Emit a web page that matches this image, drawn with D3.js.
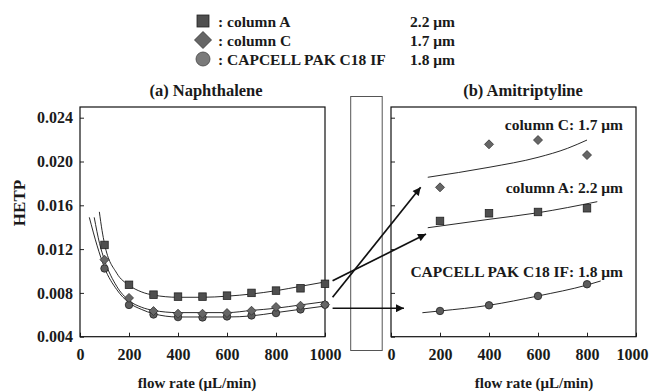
<!DOCTYPE html>
<html><head><meta charset="utf-8">
<script src="https://cdn.jsdelivr.net/npm/d3@7"></script>
<style>
body{margin:0;background:#fff}
text{font-family:"Liberation Serif","Times New Roman",serif;font-weight:bold;fill:#1a1a1a}
</style>
</head><body><svg id="c" width="649" height="392"></svg>
<script>
// ---------- data ----------
const xTicks = [0, 200, 400, 600, 800, 1000];
const yTicks = [0.004, 0.008, 0.012, 0.016, 0.020, 0.024];

// (a) Naphthalene – measured points
const napFlow = [100, 200, 300, 400, 500, 600, 700, 800, 900, 1000];
const napColA = [0.01238, 0.00874, 0.00784, 0.00766, 0.00766, 0.00775, 0.00800, 0.00821, 0.00842, 0.00883];
const napColC = [0.01103, 0.00754, 0.00634, 0.00610, 0.00610, 0.00616, 0.00637, 0.00671, 0.00683, 0.00692];
const napCap  = [0.01023, 0.00690, 0.00603, 0.00579, 0.00576, 0.00585, 0.00594, 0.00616, 0.00649, 0.00692];
// (a) fitted curves
const napFitAx = [79, 90, 100, 150, 200, 250, 300, 400, 500, 600, 700, 800, 900, 1000];
const napFitAy = [0.0154, 0.0137, 0.0125, 0.0098, 0.0087, 0.0081, 0.0078, 0.0076, 0.0076, 0.0077, 0.0079, 0.0082, 0.0086, 0.0090];
const napFitCx = [58, 80, 100, 150, 200, 250, 300, 400, 500, 600, 700, 800, 900, 1000];
const napFitCy = [0.0149, 0.0125, 0.0110, 0.0086, 0.0073, 0.0067, 0.0064, 0.0062, 0.0062, 0.0062, 0.0064, 0.0066, 0.0069, 0.0072];
const napFitPx = [38, 70, 100, 150, 200, 250, 300, 400, 500, 600, 700, 800, 900, 1000];
const napFitPy = [0.0149, 0.0123, 0.0103, 0.0083, 0.0071, 0.0065, 0.0061, 0.0058, 0.0058, 0.0058, 0.0059, 0.0062, 0.0065, 0.0068];

// (b) Amitriptyline – measured points
const amiFlow = [200, 400, 600, 800];
const amiColA = [0.01457, 0.01527, 0.01539, 0.01573];
const amiColC = [0.01764, 0.02157, 0.02196, 0.02059];
const amiCap  = [0.00635, 0.00687, 0.00772, 0.00879];
// (b) fitted curves
const amiFitCx = [150, 400, 600, 720, 800];
const amiFitCy = [0.01856, 0.01947, 0.02038, 0.02120, 0.02196];
const amiFitAx = [150, 400, 600, 842];
const amiFitAy = [0.01395, 0.01472, 0.01532, 0.01633];
const amiFitPx = [128, 200, 400, 600, 800, 856];
const amiFitPy = [0.00619, 0.00635, 0.00687, 0.00772, 0.00872, 0.00909];

// legend
const legendNames = [": column A", ": column C", ": CAPCELL PAK C18 IF"];
const legendSizes = ["2.2 μm", "1.7 μm", "1.8 μm"];
const legendShapes = ["square", "diamond", "circle"];

// right-panel labels
const amiLabels = ["column C: 1.7 μm", "column A: 2.2 μm", "CAPCELL PAK C18 IF: 1.8 μm"];
const amiLabelY = [0.02285, 0.01710, 0.00942];

// arrows: from left panel (flow, HETP) to right panel (flow, HETP)
const arrowFrom = [[1031, 0.0076], [1031, 0.0091], [1031, 0.0066]];
const arrowTo   = [[121, 0.01764], [143, 0.01338], [53, 0.0066]];

// ---------- drawing ----------
const svg = d3.select("#c");
const plotTop = 107, plotBottom = 336.7;
const y = d3.scaleLinear().domain([0.004, 0.024]).range([plotBottom, 117.7]);
const xL = d3.scaleLinear().domain([0, 1000]).range([80, 325]);
const xR = d3.scaleLinear().domain([0, 1000]).range([391, 636]);

const styles = {
  square: {fill: "#4f4f4f", stroke: "#222"},
  diamond: {fill: "#666", stroke: "#333"},
  circle: {fill: "#5c5c5c", stroke: "#222"}
};
function marker(g, shape, cx, cy, s) {
  const st = styles[shape];
  if (shape === "circle") {
    g.append("circle").attr("cx", cx).attr("cy", cy).attr("r", s / 2)
      .attr("fill", st.fill).attr("stroke", st.stroke).attr("stroke-width", 0.8);
  } else if (shape === "square") {
    g.append("rect").attr("x", cx - s / 2).attr("y", cy - s / 2).attr("width", s).attr("height", s)
      .attr("fill", st.fill).attr("stroke", st.stroke).attr("stroke-width", 0.8);
  } else {
    const h = s / 2;
    g.append("path").attr("d", `M${cx},${cy - h}L${cx + h},${cy}L${cx},${cy + h}L${cx - h},${cy}Z`)
      .attr("fill", st.fill).attr("stroke", st.stroke).attr("stroke-width", 0.8);
  }
}

function panel(x, withLabels, title, titleX, xlabelX) {
  const g = svg.append("g");
  const yAx = d3.axisLeft(y).tickValues(yTicks).tickSizeInner(-4).tickSizeOuter(0).tickPadding(7)
    .tickFormat(withLabels ? d3.format(".3f") : () => "");
  const ga = g.append("g").attr("transform", `translate(${x.range()[0]},0)`).call(yAx);
  ga.select(".domain").remove();
  ga.selectAll("text").style("font-size", "16px").attr("fill", "#1a1a1a");
  ga.selectAll("line").attr("stroke", "#222");
  const xAx = d3.axisBottom(x).tickValues(xTicks).tickSizeInner(-4).tickSizeOuter(0).tickPadding(12)
    .tickFormat(d3.format("d"));
  const gx = g.append("g").attr("transform", `translate(0,${plotBottom})`).call(xAx);
  gx.select(".domain").remove();
  gx.selectAll("text").style("font-size", "16px").attr("fill", "#1a1a1a");
  gx.selectAll("line").attr("stroke", "#222");
  g.append("rect").attr("x", x.range()[0]).attr("y", plotTop)
    .attr("width", x.range()[1] - x.range()[0]).attr("height", plotBottom - plotTop)
    .attr("fill", "none").attr("stroke", "#111").attr("stroke-width", 1.2);
  g.append("text").attr("x", titleX).attr("y", 96).attr("text-anchor", "middle")
    .style("font-size", "16.5px").text(title);
  g.append("text").attr("x", xlabelX).attr("y", 388).attr("text-anchor", "middle")
    .style("font-size", "15px").text("flow rate (μL/min)");
  return gx;
}

panel(xL, true, "(a) Naphthalene", 206, 197);
const gxR = panel(xR, false, "(b) Amitriptyline", 523, 534);
gxR.selectAll(".tick text").filter(d => d === 1000).attr("dx", "-4");

svg.append("text").attr("transform", "translate(25,203) rotate(-90)")
  .attr("text-anchor", "middle").style("font-size", "17px").text("HETP");

// middle box
svg.append("rect").attr("x", 350.7).attr("y", 96.5).attr("width", 31.5).attr("height", 254)
  .attr("fill", "none").attr("stroke", "#555").attr("stroke-width", 1);

// fitted curves
function curve(x, xs, ys) {
  const line = d3.line().x(d => x(d[0])).y(d => y(d[1])).curve(d3.curveMonotoneX);
  svg.append("path").attr("d", line(xs.map((v, i) => [v, ys[i]])))
    .attr("fill", "none").attr("stroke", "#111").attr("stroke-width", 0.9);
}
curve(xL, napFitAx, napFitAy);
curve(xL, napFitCx, napFitCy);
curve(xL, napFitPx, napFitPy);
curve(xR, amiFitCx, amiFitCy);
curve(xR, amiFitAx, amiFitAy);
curve(xR, amiFitPx, amiFitPy);

// points
const gp = svg.append("g");
napFlow.forEach((f, i) => {
  marker(gp, "circle", xL(f), y(napCap[i]), 7.5);
  marker(gp, "diamond", xL(f), y(napColC[i]), 9);
  marker(gp, "square", xL(f), y(napColA[i]), 7.5);
});
amiFlow.forEach((f, i) => {
  marker(gp, "circle", xR(f), y(amiCap[i]), 7.5);
  marker(gp, "diamond", xR(f), y(amiColC[i]), 9);
  marker(gp, "square", xR(f), y(amiColA[i]), 7.5);
});

// arrows
svg.append("defs").append("marker").attr("id", "ah").attr("viewBox", "0 0 10 10")
  .attr("refX", 10).attr("refY", 5).attr("markerWidth", 10).attr("markerHeight", 8)
  .attr("markerUnits", "userSpaceOnUse").attr("orient", "auto")
  .append("path").attr("d", "M0,0L10,5L0,10Z").attr("fill", "#111");
arrowFrom.forEach((a, i) => {
  svg.append("line").attr("x1", xL(a[0])).attr("y1", y(a[1]))
    .attr("x2", xR(arrowTo[i][0])).attr("y2", y(arrowTo[i][1]))
    .attr("stroke", "#111").attr("stroke-width", 1.7).attr("marker-end", "url(#ah)");
});

// right-panel labels
amiLabels.forEach((t, i) => {
  svg.append("text").attr("x", 623).attr("y", y(amiLabelY[i])).attr("text-anchor", "end")
    .style("font-size", "15.5px").text(t);
});

// legend
const legY = [21, 40, 59];
legendNames.forEach((n, i) => {
  const cy = legY[i];
  const s = legendShapes[i];
  if (s === "square") marker(svg, s, 203, cy, 12);
  else if (s === "diamond") marker(svg, s, 203, cy, 17);
  else {
    svg.append("circle").attr("cx", 203).attr("cy", cy).attr("r", 7)
      .attr("fill", "#7a7a7a").attr("stroke", "#444").attr("stroke-width", 0.8);
  }
  svg.append("text").attr("x", 218).attr("y", cy + 5.5).style("font-size", "15.5px").text(n);
  svg.append("text").attr("x", 410).attr("y", cy + 5.5).style("font-size", "15.5px").text(legendSizes[i]);
});
</script>
</body></html>
